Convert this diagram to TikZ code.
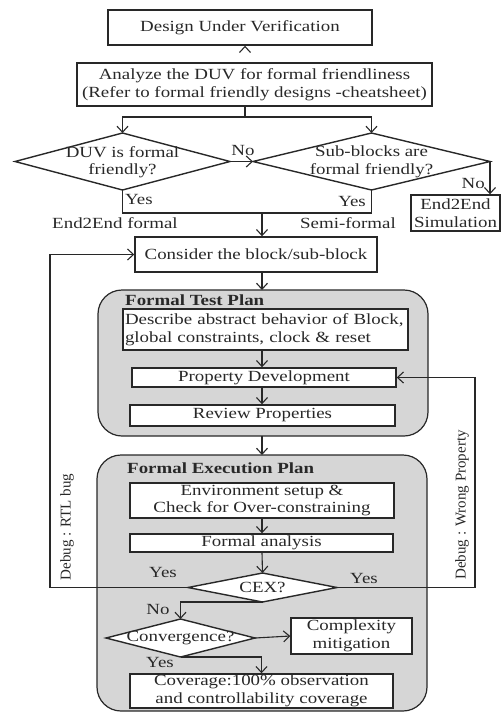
\documentclass[tikz,border=0pt]{standalone}
\usepackage{fontspec}
\setmainfont{Liberation Serif}[FakeStretch=1.22]
\newfontfamily\plainserif{Liberation Serif}
\usetikzlibrary{shapes.geometric,arrows.meta,calc}
\definecolor{panelgray}{RGB}{214,214,214}
\definecolor{ink}{RGB}{40,40,40}
\tikzset{
  txt/.style={font=\fontsize{15.5}{17.5}\selectfont, text=ink},
  boxnode/.style={txt, draw=ink, line width=1.4pt, fill=white, rectangle, inner sep=0pt, align=center},
  diapath/.style={draw=ink, line width=1.4pt, fill=white},
  panel/.style={draw=ink, line width=1.2pt, fill=panelgray, rounded corners=24pt},
  conn/.style={draw=ink, line width=1.1pt},
  arr/.style={conn, -{Straight Barb[length=6pt,width=11pt]}},
  lbl/.style={txt, inner sep=0pt, align=center},
  ttl/.style={txt, font=\fontsize{15.5}{17.5}\selectfont\bfseries, inner sep=0pt, anchor=west},
  vlbl/.style={font=\plainserif\fontsize{15}{17.5}\selectfont, text=ink, inner sep=0pt, rotate=90}
}
\begin{document}
\begin{tikzpicture}[x=1pt,y=-1pt]
\useasboundingbox (0,0) rectangle (502,713);
% panels
\path[panel] (98,290) rectangle (428,436);
\path[panel] (97,455) rectangle (427,711);
\node[ttl] (ftpt) at (125,300) {Formal Test Plan};
\node[ttl] (fept) at (127,468) {Formal Execution Plan};
% boxes
\node[boxnode, minimum width=264pt, minimum height=35pt] (duv) at (240,27.5) {Design Under Verification};
\node[boxnode, minimum width=355pt, minimum height=43pt] (ana) at (254.5,84.5) {Analyze the DUV for formal friendliness\\(Refer to formal friendly designs -cheatsheet)};
\node[boxnode, minimum width=89pt, minimum height=36pt] (sim) at (455.5,213) {End2End\\Simulation};
\node[boxnode, minimum width=242pt, minimum height=35pt] (cons) at (256,254.5) {Consider the block/sub-block};
\node[boxnode, minimum width=285pt, minimum height=41pt, align=left, text width=281pt] (desc) at (265.5,329.5) {Describe abstract behavior of Block,\\global constraints, clock \& reset};
\node[boxnode, minimum width=264pt, minimum height=19pt] (pd) at (264,377.5) {Property Development};
\node[boxnode, minimum width=265pt, minimum height=21pt] (rev) at (262.5,415.5) {Review Properties};
\node[boxnode, minimum width=264pt, minimum height=35pt] (env) at (262,500.5) {Environment setup \&\\Check for Over-constraining};
\node[boxnode, minimum width=263pt, minimum height=18pt] (fa) at (261.5,543) {Formal analysis};
\node[boxnode, minimum width=121pt, minimum height=36pt] (cplx) at (351.5,636) {Complexity\\mitigation};
\node[boxnode, minimum width=263pt, minimum height=34pt] (cov) at (261.5,691) {Coverage:100\% observation\\and controllability coverage};
% diamonds (corner coordinates + text node)
\coordinate (d1n) at (122.5,133); \coordinate (d1s) at (122.5,190);
\coordinate (d1w) at (15,161.5);  \coordinate (d1e) at (230,161.5);
\draw[diapath] (d1n) -- (d1e) -- (d1s) -- (d1w) -- cycle;
\node[lbl] (d1) at (122.5,162) {DUV is formal\\friendly?};
\coordinate (d2n) at (371.5,133); \coordinate (d2s) at (371.5,190);
\coordinate (d2w) at (253,161.5); \coordinate (d2e) at (490,161.5);
\draw[diapath] (d2n) -- (d2e) -- (d2s) -- (d2w) -- cycle;
\node[lbl] (d2) at (371.5,162) {Sub-blocks are\\formal friendly?};
\coordinate (cxn) at (262.5,573); \coordinate (cxs) at (262.5,602);
\coordinate (cxw) at (188,587.5); \coordinate (cxe) at (337,587.5);
\draw[diapath] (cxn) -- (cxe) -- (cxs) -- (cxw) -- cycle;
\node[lbl] (cex) at (262.5,587.5) {CEX?};
\coordinate (cvn) at (180.5,619); \coordinate (cvs) at (180.5,657);
\coordinate (cvw) at (106,638);   \coordinate (cve) at (255,638);
\draw[diapath] (cvn) -- (cve) -- (cvs) -- (cvw) -- cycle;
\node[lbl] (conv) at (180.5,638) {Convergence?};
% coordinates
\coordinate (split) at (245,117);
\coordinate (join) at (262,213);
% connectors
\draw[arr] (duv.south -| split) -- (duv.south -| split |- ana.north);
\draw[conn] (ana.south -| split) -- (split);
\draw[arr] (split) -| (d1n);
\draw[arr] (split) -| (d2n);
\draw[arr] (d1e) -- (d2w);
\node[lbl] (no1) at (243,150) {No};
\draw[arr] (d2e) -- (d2e |- sim.north);
\node[lbl, anchor=east] (no2) at (485,183) {No};
\draw[conn] (d1s) |- (join) -| (d2s);
\node[lbl, anchor=west] (y1) at (125,199) {Yes};
\node[lbl, anchor=east] (y2) at (366,201) {Yes};
\node[lbl] (e2e) at (115,223) {End2End formal};
\node[lbl] (semi) at (348,223) {Semi-formal};
\draw[arr] (join) -- (join |- cons.north);
\draw[arr] (cons.south -| join) -- (262,290);
\draw[arr] (desc.south -| join) -- (join |- pd.north);
\draw[arr] (pd.south -| join) -- (join |- rev.north);
\draw[arr] (262,436) -- (262,455);
\draw[arr] (env.south -| join) -- (join |- fa.north);
\draw[arr] (fa.south -| join) -- (cxn);
% debug loops
\coordinate (lft) at (50,587.5);
\coordinate (rgt) at (475,587.5);
\draw[arr] (cxw) -- (lft) |- (cons.west);
\draw[arr] (cxe) -- (rgt) |- (pd.east);
\node[lbl] (y3) at (163,572) {Yes};
\node[lbl] (y4) at (364,578) {Yes};
\node[vlbl] (rtl) at (67,527) {Debug : RTL bug};
\node[vlbl] (wp) at (462,505) {Debug : Wrong Property};
% lower part
\draw[arr] (cxs) -- (cvn |- cxs) -- (cvn);
\node[lbl] (no3) at (158,609) {No};
\draw[arr] (cve) -- (cplx.west);
\draw[arr] (cvs) -- (cov.north |- cvs) -- (cov.north);
\node[lbl] (y5) at (160,662) {Yes};
\end{tikzpicture}
\end{document}
